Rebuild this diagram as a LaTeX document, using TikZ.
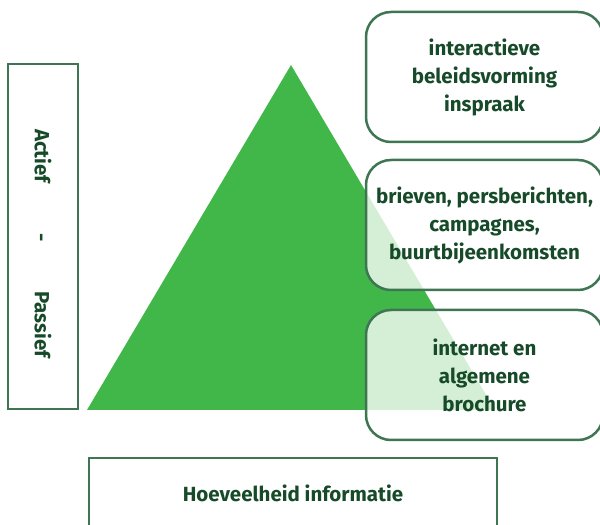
\documentclass[tikz,border=0pt]{standalone}
\usepackage{fontspec}
\setmainfont{Fira Sans}
\usetikzlibrary{shapes.geometric}
\definecolor{piramide}{RGB}{65,183,74}
\definecolor{rand}{RGB}{62,118,84}
\definecolor{tekst}{RGB}{22,74,40}
\tikzstyle{kader} = [draw=rand, line width=2.5pt, fill=white, inner sep=0pt, text=tekst, font=\fontsize{20.5}{28}\selectfont\bfseries, align=center]
\tikzstyle{vak} = [kader, rounded corners=25pt, fill opacity=0.78, text opacity=1, minimum width=237pt, minimum height=130pt]

\begin{document}
\begin{tikzpicture}[x=1pt,y=1pt]
    \useasboundingbox (0,0) rectangle (600,525);

    % driehoek
    \coordinate (top) at (291,460);
    \coordinate (linksonder) at (87,115);
    \coordinate (rechtsonder) at (495,115);
    \fill[piramide] (top) -- (linksonder) -- (rechtsonder) -- cycle;

    % kaders rechts
    \node at (484.5,448) [vak] (inspraak) {interactieve\\beleidsvorming\\inspraak};
    \node at (484.5,300) [vak] (brieven) {brieven, persberichten,\\campagnes,\\buurtbijeenkomsten};
    \node at (484.5,150) [vak] (internet) {internet en\\algemene\\brochure};

    % as links
    \node at (43,288.5) [kader, minimum width=70pt, minimum height=345pt] (as) {};
    \node at (43,281.5) [text=tekst, font=\fontsize{20.5}{28}\selectfont\bfseries, rotate=-90] (astekst) {Actief\hspace{50pt}-\hspace{50pt}Passief};

    % as onder
    \node at (293,32) [kader, minimum width=408pt, minimum height=70pt] (hoeveelheid) {Hoeveelheid informatie};

\end{tikzpicture}
\end{document}
